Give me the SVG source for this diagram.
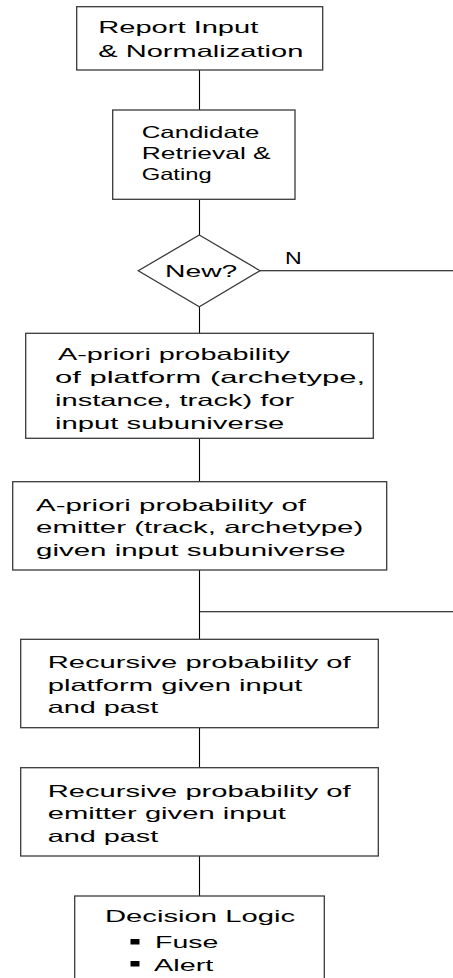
<svg xmlns="http://www.w3.org/2000/svg" width="453" height="978" viewBox="0 0 453 978">
<style>
.box{fill:#ffffff;stroke:#3a3a3a;stroke-width:1.3}
.t{font-family:"Liberation Sans",Arial,sans-serif;font-size:16.5px;fill:#000000}
.c{stroke:#000000;stroke-width:1.1;fill:none}
</style>
<rect x="0" y="0" width="453" height="978" fill="#ffffff"/>
<g id="connectors">
<line class="c" x1="199.5" y1="70" x2="199.5" y2="110"/>
<line class="c" x1="199.5" y1="199.3" x2="199.5" y2="235"/>
<line class="c" x1="199.5" y1="306.7" x2="199.5" y2="333.3"/>
<line class="c" x1="260" y1="270.7" x2="453" y2="270.7"/>
<line class="c" x1="199.5" y1="438.3" x2="199.5" y2="481.7"/>
<line class="c" x1="199.5" y1="570" x2="199.5" y2="639.3"/>
<line class="c" x1="199.5" y1="611.7" x2="453" y2="611.7"/>
<line class="c" x1="199.5" y1="727.7" x2="199.5" y2="767.7"/>
<line class="c" x1="199.5" y1="856" x2="199.5" y2="896"/>
<text class="t" x="285" y="264.3" textLength="16.7" lengthAdjust="spacingAndGlyphs">N</text>
</g>
<g id="report-input">
<rect class="box" x="76.7" y="6.7" width="246" height="63.3"/>
<text class="t" x="98.3" y="33.3" textLength="160" lengthAdjust="spacingAndGlyphs">Report Input</text>
<text class="t" x="98.3" y="56.7" textLength="205" lengthAdjust="spacingAndGlyphs">&amp; Normalization</text>
</g>
<g id="candidate-retrieval">
<rect class="box" x="112.7" y="110" width="182.3" height="89.3"/>
<text class="t" x="141.7" y="138.3" textLength="117.6" lengthAdjust="spacingAndGlyphs">Candidate</text>
<text class="t" x="141.7" y="159" textLength="129" lengthAdjust="spacingAndGlyphs">Retrieval &amp;</text>
<text class="t" x="141.7" y="179.5" textLength="70" lengthAdjust="spacingAndGlyphs">Gating</text>
</g>
<g id="new-decision">
<polygon class="box" points="199.3,235 260,270.7 199.3,306.7 138.3,270.7"/>
<text class="t" x="165" y="276.7" textLength="72.3" lengthAdjust="spacingAndGlyphs">New?</text>
</g>
<g id="apriori-platform">
<rect class="box" x="25.7" y="333.3" width="347.6" height="105"/>
<text class="t" x="58" y="360" textLength="232" lengthAdjust="spacingAndGlyphs">A-priori probability</text>
<text class="t" x="55" y="382.5" textLength="310" lengthAdjust="spacingAndGlyphs">of platform (archetype,</text>
<text class="t" x="55" y="405.5" textLength="239.3" lengthAdjust="spacingAndGlyphs">instance, track) for</text>
<text class="t" x="55" y="429" textLength="229.3" lengthAdjust="spacingAndGlyphs">input subuniverse</text>
</g>
<g id="apriori-emitter">
<rect class="box" x="12.7" y="481.7" width="374" height="88.3"/>
<text class="t" x="36" y="511" textLength="270" lengthAdjust="spacingAndGlyphs">A-priori probability of</text>
<text class="t" x="36" y="533.3" textLength="327.3" lengthAdjust="spacingAndGlyphs">emitter (track, archetype)</text>
<text class="t" x="36" y="555.7" textLength="309.7" lengthAdjust="spacingAndGlyphs">given input subuniverse</text>
</g>
<g id="recursive-platform">
<rect class="box" x="20.7" y="639.3" width="357.6" height="88.4"/>
<text class="t" x="47.7" y="668.3" textLength="303" lengthAdjust="spacingAndGlyphs">Recursive probability of</text>
<text class="t" x="47.7" y="690.7" textLength="254.6" lengthAdjust="spacingAndGlyphs">platform given input</text>
<text class="t" x="47.7" y="713.3" textLength="110.6" lengthAdjust="spacingAndGlyphs">and past</text>
</g>
<g id="recursive-emitter">
<rect class="box" x="20.7" y="767.7" width="357.6" height="88.3"/>
<text class="t" x="47.7" y="796.7" textLength="303" lengthAdjust="spacingAndGlyphs">Recursive probability of</text>
<text class="t" x="47.7" y="819.1" textLength="238.3" lengthAdjust="spacingAndGlyphs">emitter given input</text>
<text class="t" x="47.7" y="841.7" textLength="110.6" lengthAdjust="spacingAndGlyphs">and past</text>
</g>
<g id="decision-logic">
<rect class="box" x="74.7" y="896" width="249.6" height="100"/>
<text class="t" x="105" y="921.7" textLength="190" lengthAdjust="spacingAndGlyphs">Decision Logic</text>
<rect x="130.5" y="939" width="9" height="5.5" fill="#000000"/>
<text class="t" x="155" y="948.3" textLength="63.3" lengthAdjust="spacingAndGlyphs">Fuse</text>
<rect x="130.5" y="961" width="9" height="5.5" fill="#000000"/>
<text class="t" x="154" y="970.7" textLength="59.3" lengthAdjust="spacingAndGlyphs">Alert</text>
</g>
</svg>
